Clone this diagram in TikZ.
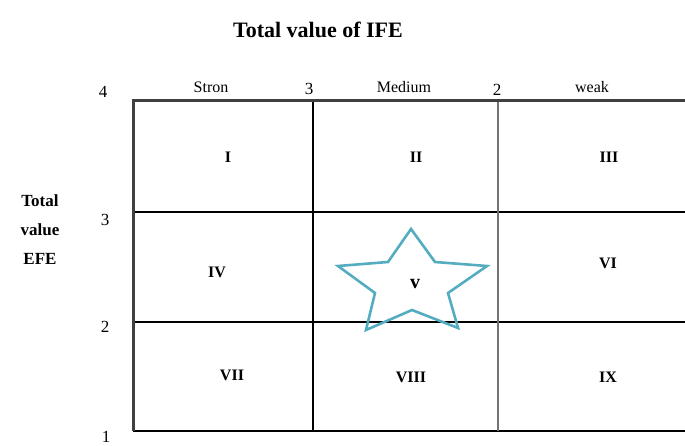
\documentclass[tikz,border=0pt]{standalone}
\usepackage{fontspec}
\setmainfont{Liberation Serif}
\usepackage{xcolor}
\usetikzlibrary{positioning}
\definecolor{starteal}{RGB}{84,172,192}

\begin{document}
\begin{tikzpicture}[x=1pt,y=-1pt,
  axislbl/.style={font=\fontsize{16}{17}\selectfont},
  axisnum/.style={font=\fontsize{17}{18}\selectfont},
  celllbl/.style={font=\bfseries\fontsize{16}{17}\selectfont}]

  \useasboundingbox (0,0) rectangle (685,446);

  % titles
  \node[font=\bfseries\fontsize{22}{24}\selectfont] (title) at (318,30) {Total value of IFE};
  \node[font=\bfseries\fontsize{17}{29}\selectfont, align=center] (efe) at (40,230) {Total\\value\\EFE};

  % grid
  \draw[line width=1.2pt] (313,101) -- (313,431);
  \draw[line width=1.2pt] (133,212) -- (685,212);
  \draw[line width=1.2pt] (133,322) -- (685,322);
  \draw[line width=1.2pt] (133,431) -- (685,431);
  \draw[line width=2pt,black!55] (498,101) -- (498,431);
  \draw[line width=3pt,black!75] (133,431) -- (133,101) -- (686,101);

  % top axis
  \node[axisnum] (t4) at (103,92) {4};
  \node[axislbl] (strong) at (211,87) {Stron};
  \node[axisnum] (t3) at (309,89) {3};
  \node[axislbl] (medium) at (404,87) {Medium};
  \node[axisnum] (t2) at (497,90) {2};
  \node[axislbl] (weak) at (592,87) {weak};
  \node[axisnum] (t1) at (690,89) {1};

  % left axis
  \node[axisnum] (l3) at (105,220) {3};
  \node[axisnum] (l2) at (105,327) {2};
  \node[axisnum] (l1) at (106,437) {1};

  % star
  \draw[starteal,line width=2.6pt,line join=miter]
    (411,229) -- (435,262) -- (487,266) -- (448,293) -- (458,328)
    -- (412,310) -- (366,330) -- (375,293) -- (338,266) -- (388,262) -- cycle;

  % cells
  \foreach \lab/\x/\y in {I/228/157, II/416/157, III/609/157,
                          IV/217/272, VI/608/263,
                          VII/232/375, VIII/411/377, IX/608/377}{
    \node[celllbl] (cell\lab) at (\x,\y) {\lab};
  }
  \node[font=\bfseries\fontsize{20}{21}\selectfont] (cellv) at (415,284) {v};

\end{tikzpicture}
\end{document}
